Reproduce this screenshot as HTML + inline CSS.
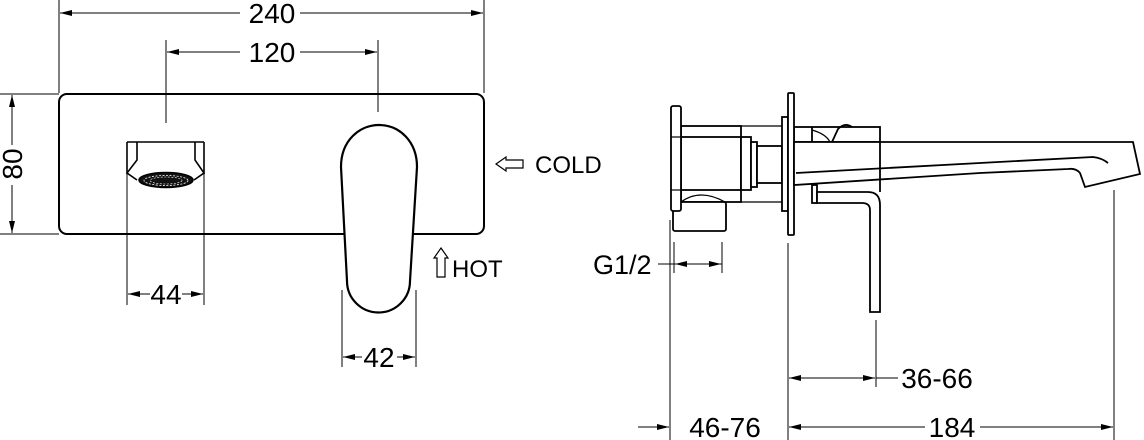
<!DOCTYPE html>
<html><head><meta charset="utf-8"><style>
html,body{margin:0;padding:0;background:#fff;}
svg{display:block;}
text{font-family:"Liberation Sans",Arial,sans-serif;fill:#000;}
</style></head><body>
<svg width="1144" height="440" viewBox="0 0 1144 440" xmlns="http://www.w3.org/2000/svg">
<defs>
<marker id="a" viewBox="0 0 12 6" refX="12" refY="3" markerWidth="12" markerHeight="6" orient="auto" markerUnits="userSpaceOnUse"><path d="M0,0 L12,3 L0,6 Z" fill="#000"/></marker>
</defs>
<g stroke="#000" fill="none" stroke-width="1">
<!-- 240 -->
<line x1="59" y1="0" x2="59" y2="93"/><line x1="484" y1="0" x2="484" y2="93"/>
<line x1="240" y1="13" x2="60" y2="13" marker-end="url(#a)"/><line x1="300" y1="13" x2="483" y2="13" marker-end="url(#a)"/>
<!-- 120 -->
<line x1="166" y1="40" x2="166" y2="123"/><line x1="378" y1="40" x2="378" y2="112"/>
<line x1="240" y1="52" x2="167" y2="52" marker-end="url(#a)"/><line x1="300" y1="52" x2="377" y2="52" marker-end="url(#a)"/>
<!-- 80 -->
<line x1="0" y1="94" x2="59" y2="94"/><line x1="0" y1="234" x2="59" y2="234"/>
<line x1="12" y1="145" x2="12" y2="95" marker-end="url(#a)"/><line x1="12" y1="185" x2="12" y2="233" marker-end="url(#a)"/>
</g>
<!-- plate -->
<rect x="59" y="94" width="425" height="140" rx="8" fill="none" stroke="#000" stroke-width="2"/>
<!-- left outlet -->
<g stroke="#000" stroke-width="1.6" fill="none">
<line x1="127" y1="142" x2="204" y2="142"/>
<line x1="127" y1="142" x2="127" y2="174"/><line x1="204" y1="142" x2="204" y2="174"/>
<polyline points="137,142 137,160 127,173 137,180"/>
<polyline points="195,142 195,160 204,173 194,180"/>
</g>
<ellipse cx="166" cy="180" rx="27" ry="7.5" fill="#111" stroke="#000" stroke-width="1.5"/>
<ellipse cx="166" cy="180.5" rx="22" ry="5" fill="none" stroke="#fff" stroke-width="0.8" stroke-dasharray="2 1.5"/>
<ellipse cx="166" cy="180.5" rx="16" ry="3.5" fill="none" stroke="#fff" stroke-width="0.6" stroke-dasharray="2 1.5"/>
<g stroke="#000" fill="none" stroke-width="1">
<line x1="127" y1="174" x2="127" y2="305"/><line x1="204" y1="174" x2="204" y2="305"/>
<line x1="150" y1="294" x2="128" y2="294" marker-end="url(#a)"/><line x1="182" y1="294" x2="203" y2="294" marker-end="url(#a)"/>
</g>
<!-- handle -->
<path d="M341,167 C341,140 360,125 379,125 C400,125 417,142 417,167 L410,281 A31.5,31.5 0 0 1 347,281 Z" fill="#fff" stroke="#000" stroke-width="2.2"/>
<g stroke="#000" fill="none" stroke-width="1">
<line x1="342" y1="290" x2="342" y2="367"/><line x1="416" y1="290" x2="416" y2="367"/>
<line x1="362" y1="357" x2="343" y2="357" marker-end="url(#a)"/><line x1="397" y1="357" x2="415" y2="357" marker-end="url(#a)"/>
</g>
<!-- COLD / HOT arrows -->
<path d="M496,164 L506,157 L506,160 L523,160 L523,168 L506,168 L506,171 Z" fill="none" stroke="#000" stroke-width="1.2"/>
<path d="M441,248 L448,258 L445,258 L445,277 L437,277 L437,258 L434,258 Z" fill="none" stroke="#000" stroke-width="1.2"/>
<text x="535" y="173" font-size="24">COLD</text>
<text x="452" y="277" font-size="24">HOT</text>
<!-- dimension texts left -->
<text x="272" y="23" font-size="28" text-anchor="middle">240</text>
<text x="272" y="62" font-size="28" text-anchor="middle">120</text>
<text x="166" y="304" font-size="28" text-anchor="middle">44</text>
<text x="379" y="367" font-size="28" text-anchor="middle">42</text>
<text x="0" y="0" font-size="28" text-anchor="middle" transform="translate(22,164) rotate(-90)">80</text>

<!-- right view -->
<g stroke="#000" fill="#fff" stroke-width="1.8">
<!-- handle body behind -->
<rect x="794" y="127" width="86" height="15"/>
<line x1="812" y1="127" x2="812" y2="142"/>
<path d="M812,130 Q826,134 830,142" fill="none" stroke-width="1.2"/>
<path d="M832,142 L838,129 Q845,122 852,127" fill="none"/>
<!-- body -->
<line x1="741" y1="126" x2="782" y2="126" stroke-width="1.2"/>
<line x1="741" y1="202" x2="782" y2="202" stroke-width="1.2"/>
<rect x="681" y="126" width="60" height="76"/>
<rect x="681" y="137" width="60" height="53"/>
<rect x="741" y="137" width="10" height="53"/>
<rect x="751" y="142" width="6" height="45"/>
<rect x="757" y="146" width="25" height="37"/>
<rect x="673" y="202" width="53" height="29" rx="2"/>
<path d="M681,202 Q700,188 725,202" fill="none" stroke-width="1.2"/>
<rect x="671" y="106" width="10" height="105" rx="2"/>
<line x1="671" y1="137" x2="681" y2="137" stroke-width="1.2"/>
<line x1="671" y1="190" x2="681" y2="190" stroke-width="1.2"/>
<rect x="782" y="117" width="6" height="94"/>
<rect x="788" y="93" width="6" height="142" rx="1"/>
<!-- spout -->
<path d="M794,142 L1133,142 L1140,174 L1085,187 L1080,173 Q1076,168 1068,169 L980,173 L794,185 Z"/>
<path d="M796,173 L980,163 L1093,157 Q1102,158 1108,163" fill="none"/>
<!-- lever -->
<rect x="812" y="185" width="5" height="18"/>
<path d="M817,192 L868,192 Q880,192 880,205 L880,312 L870,312 L870,210 Q870,203 862,203 L817,203 Z"/>
<line x1="880" y1="142" x2="880" y2="192"/>
</g>
<g stroke="#000" fill="none" stroke-width="1">
<!-- G1/2 -->
<line x1="674" y1="242" x2="674" y2="273"/><line x1="722" y1="242" x2="722" y2="273"/>
<line x1="658" y1="264" x2="674" y2="264"/>
<line x1="690" y1="264" x2="675" y2="264" marker-end="url(#a)"/><line x1="706" y1="264" x2="721" y2="264" marker-end="url(#a)"/>
<line x1="674" y1="264" x2="722" y2="264"/>
<!-- 46-76 / 184 -->
<line x1="670" y1="220" x2="670" y2="440"/>
<line x1="788" y1="243" x2="788" y2="440"/>
<line x1="1114" y1="190" x2="1114" y2="440"/>
<line x1="638" y1="427" x2="669" y2="427" marker-end="url(#a)"/>
<line x1="925" y1="427" x2="789" y2="427" marker-end="url(#a)"/>
<line x1="980" y1="427" x2="1113" y2="427" marker-end="url(#a)"/>
<!-- 36-66 -->
<line x1="876" y1="320" x2="876" y2="387"/>
<line x1="830" y1="378" x2="789" y2="378" marker-end="url(#a)"/>
<line x1="820" y1="378" x2="875" y2="378" marker-end="url(#a)"/>
<line x1="876" y1="378" x2="898" y2="378"/>
</g>
<text x="593" y="274" font-size="27">G1/2</text>
<text x="725" y="437" font-size="28" text-anchor="middle">46-76</text>
<text x="952" y="437" font-size="28" text-anchor="middle">184</text>
<text x="937" y="388" font-size="28" text-anchor="middle">36-66</text>
</svg>
</body></html>
